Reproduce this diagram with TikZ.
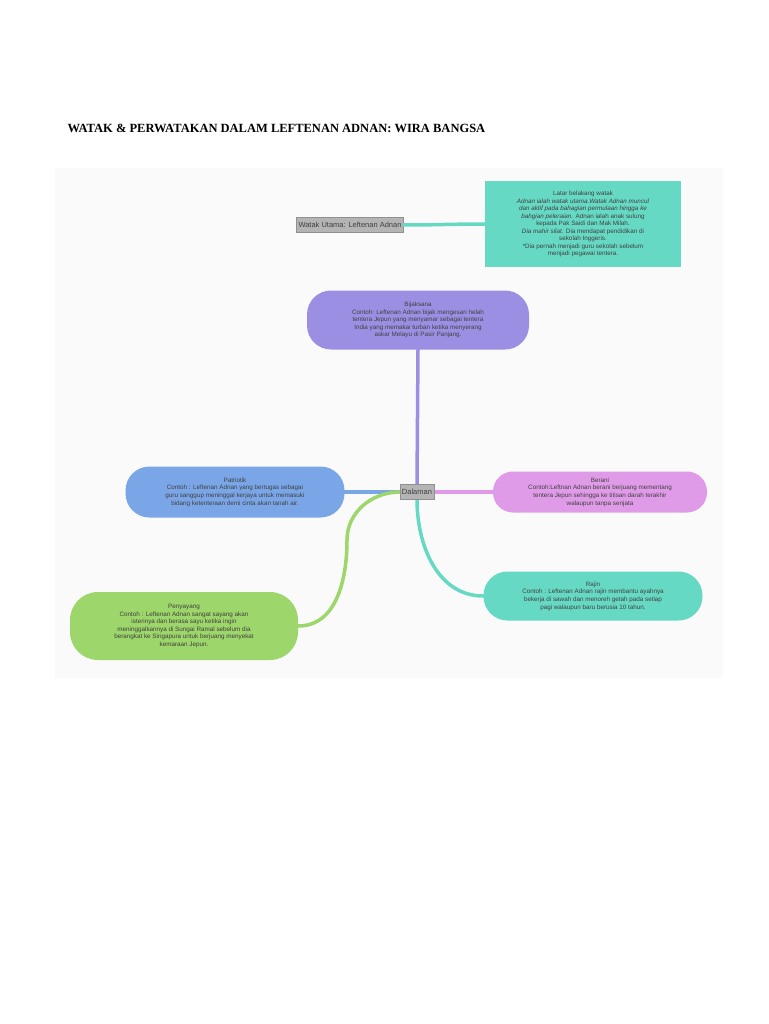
\documentclass[tikz,border=0pt]{standalone}
\usepackage{fontspec}
\setmainfont{Liberation Serif}
\newfontfamily\mapfont{Liberation Sans}
\usetikzlibrary{positioning}
\definecolor{teal1}{HTML}{66D9C4}
\definecolor{purp1}{HTML}{9B8FE3}
\definecolor{blue1}{HTML}{7AA6E8}
\definecolor{pink1}{HTML}{E09BE8}
\definecolor{green1}{HTML}{9DD66A}
\definecolor{grey1}{HTML}{B4B4B4}
\begin{document}
\begin{tikzpicture}[
  x=1pt,y=-1pt,
  topic/.style={fill=grey1,draw=grey1!80!black,line width=0.3pt,font=\mapfont\fontsize{7.5}{8}\selectfont,text=black!75,inner sep=2pt,minimum height=15pt},
  idea/.style={rounded corners=24pt,align=center,font=\mapfont\fontsize{6.3}{7.6}\selectfont,text=black!75,inner sep=3pt},
  link/.style={line width=3.5pt,line cap=round}
]
\useasboundingbox (0,0) rectangle (768,1024);
\fill[gray!4] (55,168) rectangle (723,678);
\node[font=\bfseries\fontsize{12.5}{14}\selectfont,anchor=west] (title) at (64,128) {WATAK \& PERWATAKAN DALAM LEFTENAN ADNAN: WIRA BANGSA};

\node[topic] (utama) at (350,225) {Watak Utama: Leftenan Adnan};
\node[fill=teal1,minimum width=196pt,minimum height=86pt,align=center,font=\mapfont\fontsize{6.3}{7.5}\selectfont,text=black!75,inner sep=1pt] (latar) at (583,224)
  {Latar belakang watak\\ \textit{Adnan ialah watak utama.Watak Adnan muncul}\\ \textit{dan aktif pada bahagian permulaan hingga ke}\\ \textit{bahgian peleraian.} Adnan ialah anak sulung\\ kepada Pak Saidi dan Mak Milah.\\ \textit{Dia mahir silat.} Dia mendapat pendidikan di\\ sekolah Inggeris.\\ *Dia pernah menjadi guru sekolah sebelum\\ menjadi pegawai tentera.};

\node[topic] (dalaman) at (417,492) {Dalaman};
\node[idea,fill=purp1,minimum width=222pt,minimum height=59pt] (bijak) at (418,320)
  {Bijaksana\\ Contoh: Leftenan Adnan bijak mengesan helah\\ tentera Jepun yang menyamar sebagai tentera\\ India yang memakai turban ketika menyerang\\ askar Melayu di Pasir Panjang.};
\node[idea,fill=blue1,minimum width=219pt,minimum height=51pt] (patriot) at (235,492)
  {Patriotik\\ Contoh : Leftenan Adnan yang bertugas sebagai\\ guru sanggup meninggal kerjaya untuk memasuki\\ bidang ketenteraan demi cinta akan tanah air.};
\node[idea,fill=pink1,minimum width=214pt,minimum height=41pt,rounded corners=20pt] (berani) at (600,492)
  {Berani\\ Contoh:Leftnan Adnan berani berjuang mementang\\ tentera Jepun sehingga ke titisan darah terakhir\\ walaupun tanpa senjata};
\node[idea,fill=teal1,minimum width=219pt,minimum height=49pt] (rajin) at (593,596)
  {Rajin\\ Contoh : Leftenan Adnan rajin membantu ayahnya\\ bekerja di sawah dan menoreh getah pada setiap\\ pagi walaupun baru berusia 10 tahun.};
\node[idea,fill=green1,minimum width=228pt,minimum height=68pt,rounded corners=28pt] (sayang) at (184,626)
  {Penyayang\\ Contoh : Leftenan Adnan sangat sayang akan\\ isterinya dan berasa sayu ketika ingin\\ meninggalkannya di Sungai Ramal sebelum dia\\ berangkat ke Singapura untuk berjuang menyekat\\ kemaraan Jepun.};

\draw[link,teal1] (utama.east) to[out=0,in=180] (latar.west);
\draw[link,purp1] (dalaman.north) -- (bijak.south);
\draw[link,blue1] (dalaman.west) -- (patriot.east);
\draw[link,pink1] (dalaman.east) -- (berani.west);
\draw[link,teal1] (dalaman.south) to[out=-90,in=180] (rajin.west);
\draw[link,green1] (dalaman.west) to[out=180,in=90] (347,540) to[out=-90,in=0] (sayang.east);
\node[topic] at (dalaman) {Dalaman};
\end{tikzpicture}
\end{document}
